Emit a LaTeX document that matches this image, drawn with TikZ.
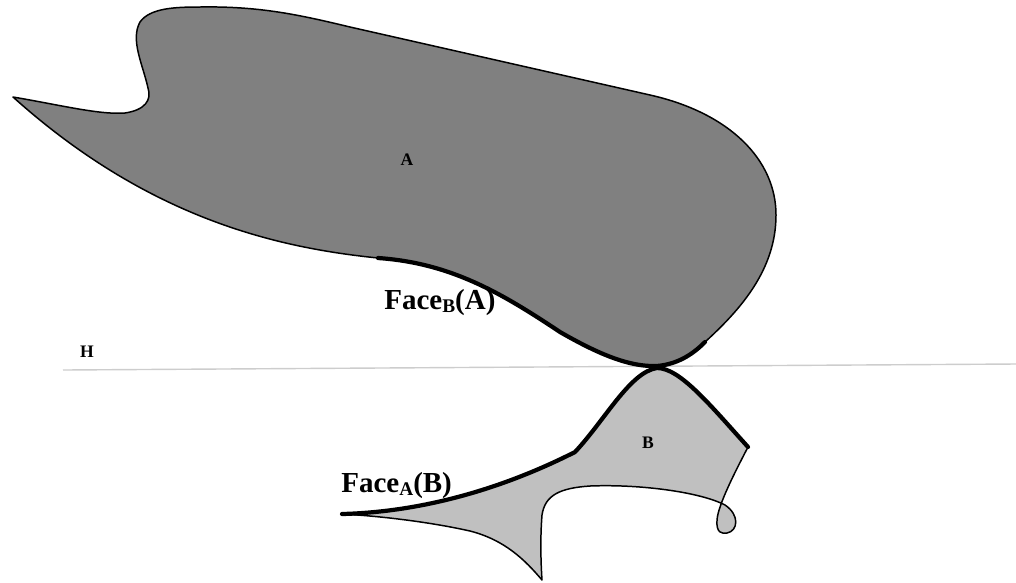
\documentclass[tikz,border=0pt]{standalone}
\usepackage{fontspec}
\setmainfont{Liberation Serif}
\definecolor{darkfill}{RGB}{128,128,128}
\definecolor{lightfill}{RGB}{192,192,192}
\definecolor{hline}{RGB}{205,205,205}
\tikzset{
  thinedge/.style={line width=0.85pt, line join=round, line cap=round},
  boldedge/.style={line width=2.4pt, line join=round, line cap=round},
  smalllbl/.style={font=\fontsize{10}{12}\selectfont\bfseries, inner sep=0pt},
  biglbl/.style={font=\fontsize{16.5}{19}\selectfont\bfseries, inner sep=0pt},
}
\newcommand{\smallsub}[1]{\raisebox{-0.25ex}{\fontsize{11}{12}\selectfont #1}}
\begin{document}
\begin{tikzpicture}[x=0.02cm, y=-0.02cm]
\useasboundingbox (0,0) rectangle (1016,582);
% horizontal line H
\coordinate (hl) at (63,370);
\coordinate (hr) at (1016,364);
\draw[hline, line width=0.8pt] (hl) -- (hr);
% shape A
\fill[darkfill] (13,97) .. controls (60,105) and (100,115) .. (125,113)
  .. controls (145,110) and (152,100) .. (148,88)
  .. controls (143,65) and (130,40) .. (140,22)
  .. controls (150,8) and (175,7) .. (200,7)
  .. controls (260,6) and (300,15) .. (350,27)
  -- (650,95)
  .. controls (730,113) and (776,160) .. (776,215)
  .. controls (776,270) and (740,310) .. (705,342)
  .. controls (695,352) and (680,364) .. (657,366)
  .. controls (630,367) and (600,355) .. (560,332)
  .. controls (500,292) and (450,263) .. (378,258)
  .. controls (280,248) and (150,220) .. (13,97) -- cycle;
\draw[thinedge] (705,342) .. controls (740,310) and (776,270) .. (776,215)
  .. controls (776,160) and (730,113) .. (650,95)
  -- (350,27)
  .. controls (300,15) and (260,6) .. (200,7)
  .. controls (175,7) and (150,8) .. (140,22)
  .. controls (130,40) and (143,65) .. (148,88)
  .. controls (152,100) and (145,110) .. (125,113)
  .. controls (100,115) and (60,105) .. (13,97)
  .. controls (150,220) and (280,248) .. (378,258);
\draw[boldedge] (378,258) .. controls (450,263) and (500,292) .. (560,332)
  .. controls (600,355) and (630,367) .. (657,366)
  .. controls (680,364) and (695,352) .. (705,342);
% shape B
\fill[lightfill] (342,514) .. controls (420,512) and (500,490) .. (575,452)
  .. controls (605,420) and (630,372) .. (657,368)
  .. controls (680,368) and (710,405) .. (748,447)
  .. controls (735,472) and (718,505) .. (717,520)
  .. controls (716,533) and (722,534) .. (727,533)
  .. controls (738,531) and (740,515) .. (725,505)
  .. controls (700,492) and (640,484) .. (590,486)
  .. controls (560,488) and (545,495) .. (542,515)
  .. controls (540,540) and (541,565) .. (542,580)
  .. controls (525,560) and (505,540) .. (470,531)
  .. controls (430,522) and (380,516) .. (342,514) -- cycle;
\draw[thinedge] (748,447)
  .. controls (735,472) and (718,505) .. (717,520)
  .. controls (716,533) and (722,534) .. (727,533)
  .. controls (738,531) and (740,515) .. (725,505)
  .. controls (700,492) and (640,484) .. (590,486)
  .. controls (560,488) and (545,495) .. (542,515)
  .. controls (540,540) and (541,565) .. (542,580)
  .. controls (525,560) and (505,540) .. (470,531)
  .. controls (430,522) and (380,516) .. (342,514);
\draw[boldedge] (342,514) .. controls (420,512) and (500,490) .. (575,452)
  .. controls (605,420) and (630,372) .. (657,368)
  .. controls (680,368) and (710,405) .. (748,447);
% labels
\node[smalllbl] (lblA) at (407,160) {A};
\node[smalllbl] (lblB) at (648,443) {B};
\node[smalllbl] (lblH) at (87,352) {H};
\node[biglbl, anchor=base west] (faceBA) at (384,309) {Face\smallsub{B}(A)};
\node[biglbl, anchor=base west] (faceAB) at (341,492) {Face\smallsub{A}(B)};
\end{tikzpicture}
\end{document}
